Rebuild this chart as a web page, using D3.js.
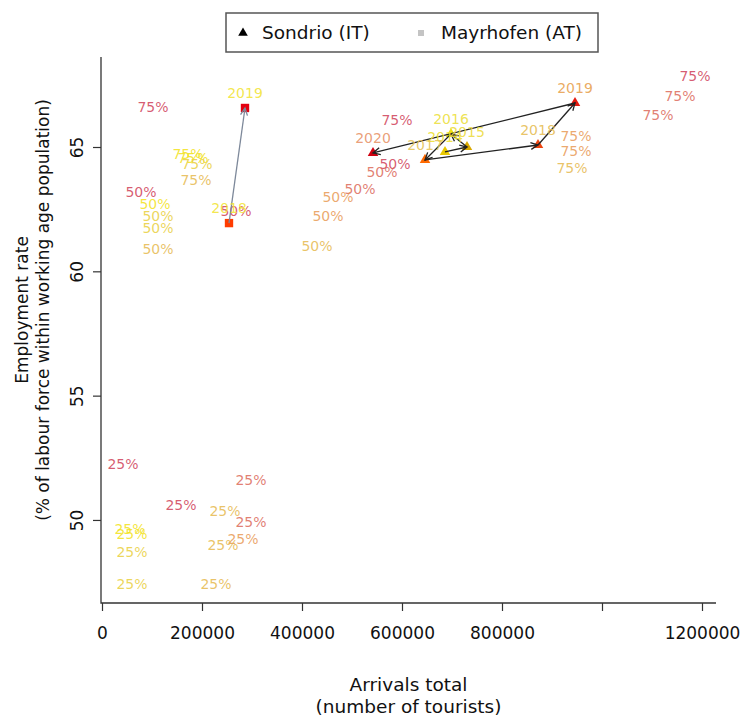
<!DOCTYPE html>
<html>
<head>
<meta charset="utf-8">
<script src="https://cdn.jsdelivr.net/npm/d3@7"></script>
<style>
  html, body { margin: 0; padding: 0; background: #fff; }
  svg { display: block; font-family: "DejaVu Sans", sans-serif; }
</style>
</head>
<body>
<svg id="chart" width="741" height="717"></svg>
<script>
// ---- data ----
const xLimits = [-2000, 1228000];
const yLimits = [46.66, 68.62];
const xTicks = [0, 200000, 400000, 600000, 800000, 1000000, 1200000];
const xTickLabels = ["0", "200000", "400000", "600000", "800000", "", "1200000"];
const yTicks = [50, 55, 60, 65];
const yTickLabels = ["50", "55", "60", "65"];

// Sondrio (IT): yearly path
const sondrioYears = [2014, 2015, 2016, 2017, 2018, 2019, 2020];
const sondrioArrivals = [686000, 730000, 698000, 646000, 872000, 946000, 542000];
const sondrioEmployment = [64.80, 65.00, 65.52, 64.48, 65.08, 66.77, 64.76];

// Mayrhofen (AT): yearly path
const mayrhofenYears = [2018, 2019];
const mayrhofenArrivals = [254000, 286000];
const mayrhofenEmployment = [61.94, 66.57];

// Quantile markers: text, arrivals, employment, year
const quantileText = [
  "75%", "75%", "75%", "75%", "75%", "75%", "75%", "75%", "75%", "75%", "75%", "75%",
  "50%", "50%", "50%", "50%", "50%", "50%", "50%", "50%", "50%", "50%", "50%", "50%",
  "25%", "25%", "25%", "25%", "25%", "25%", "25%", "25%", "25%", "25%", "25%", "25%"
];
const quantileArrivals = [
  102000, 172000, 182000, 190000, 188000, 590000, 1186000, 1156000, 1112000, 948000, 948000, 940000,
  78000, 106000, 112000, 112000, 112000, 268000, 586000, 560000, 516000, 472000, 452000, 430000,
  42000, 298000, 158000, 246000, 298000, 56000, 60000, 282000, 242000, 60000, 60000, 228000
];
const quantileEmployment = [
  66.61, 64.72, 64.56, 64.32, 63.67, 66.09, 67.86, 67.05, 66.29, 65.44, 64.84, 64.16,
  63.19, 62.71, 62.23, 61.74, 60.90, 62.43, 64.32, 64.00, 63.31, 62.99, 62.23, 61.02,
  52.25, 51.61, 50.60, 50.36, 49.92, 49.64, 49.44, 49.24, 49.00, 48.71, 47.43, 47.43
];
const quantileYear = [
  2020, 2015, 2015, 2016, 2017, 2020, 2020, 2019, 2019, 2018, 2018, 2017,
  2020, 2015, 2016, 2016, 2017, 2020, 2020, 2019, 2019, 2018, 2018, 2017,
  2020, 2019, 2020, 2017, 2019, 2015, 2015, 2018, 2017, 2016, 2016, 2017
];

const legendLabels = ["Sondrio (IT)", "Mayrhofen (AT)"];

// ---- layout ----
const svg = d3.select("#chart");
const plot = { left: 101, right: 716, top: 57, bottom: 603 };

const x = d3.scaleLinear().domain(xLimits).range([plot.left, plot.right]);
const y = d3.scaleLinear().domain(yLimits).range([plot.bottom, plot.top]);

const yearTextColour = d3.scaleOrdinal()
  .domain([2015, 2016, 2017, 2018, 2019, 2020])
  .range(["#f2e21c", "#e9cf3e", "#e6b94e", "#e89a55", "#dc6a5a", "#cf3f58"]);

const sondrioPointColour = d3.scaleOrdinal()
  .domain(sondrioYears)
  .range(["#e8c800", "#d9a800", "#eede10", "#ff6a00", "#ec4510", "#e41a10", "#d00010"]);
const sondrioLabelColour = d3.scaleOrdinal()
  .domain(sondrioYears)
  .range(["#eee030", "#ecdb40", "#ece040", "#e6c458", "#e6bd55", "#e8a250", "#e8946a"]);
const mayrhofenPointColour = d3.scaleOrdinal().domain(mayrhofenYears).range(["#ff3c00", "#e40010"]);
const mayrhofenLabelColour = "#f2e43a";

// ---- frame (L-shaped) ----
svg.append("path")
  .attr("d", `M${plot.left},${plot.top}V${plot.bottom}H${plot.right}`)
  .attr("fill", "none").attr("stroke", "#333").attr("stroke-width", 1.3);

// ---- axes ----
const xAxis = d3.axisBottom(x)
  .tickValues(xTicks)
  .tickSize(8)
  .tickPadding(16)
  .tickFormat((d, i) => xTickLabels[i]);
const gx = svg.append("g").attr("transform", `translate(0,${plot.bottom})`).call(xAxis);
gx.select(".domain").remove();
gx.selectAll("line").attr("stroke", "#333").attr("stroke-width", 1.2);
gx.selectAll("text").attr("fill", "#111").style("font-size", "17px").style("font-family", "DejaVu Sans");

const yAxis = d3.axisLeft(y)
  .tickValues(yTicks)
  .tickSize(8)
  .tickFormat((d, i) => yTickLabels[i]);
const gy = svg.append("g").attr("transform", `translate(${plot.left},0)`).call(yAxis);
gy.select(".domain").remove();
gy.selectAll("line").attr("stroke", "#333").attr("stroke-width", 1.2);
gy.selectAll("text")
  .attr("fill", "#111")
  .style("font-size", "17px").style("font-family", "DejaVu Sans")
  .attr("x", null).attr("dy", null)
  .attr("text-anchor", "middle")
  .attr("transform", "translate(-18,0) rotate(-90)");

// axis titles
svg.append("text").attr("x", (plot.left + plot.right) / 2).attr("y", 691)
  .attr("text-anchor", "middle").style("font-size", "18.5px").attr("fill", "#111")
  .text("Arrivals total");
svg.append("text").attr("x", (plot.left + plot.right) / 2).attr("y", 713)
  .attr("text-anchor", "middle").style("font-size", "18.5px").attr("fill", "#111")
  .text("(number of tourists)");
const yMid = (plot.top + plot.bottom) / 2;
svg.append("text").attr("transform", `translate(28,${yMid - 20}) rotate(-90)`)
  .attr("text-anchor", "middle").style("font-size", "17px").attr("fill", "#111")
  .text("Employment rate");
svg.append("text").attr("transform", `translate(49,${yMid - 20}) rotate(-90)`)
  .attr("text-anchor", "middle").style("font-size", "17px").attr("fill", "#111")
  .text("(% of labour force within working age population)");

// ---- quantile labels ----
const quantiles = quantileText.map((t, i) => ({
  t, a: quantileArrivals[i], e: quantileEmployment[i], year: quantileYear[i]
}));
svg.append("g").selectAll("text").data(quantiles).join("text")
  .attr("x", d => x(d.a)).attr("y", d => y(d.e))
  .attr("dy", "0.35em")
  .attr("text-anchor", "middle")
  .style("font-size", "14px")
  .attr("fill", d => yearTextColour(d.year))
  .attr("fill-opacity", 0.85)
  .text(d => d.t);

// ---- arrows ----
function arrow(g, x0, y0, x1, y1, colour) {
  const ang = Math.atan2(y1 - y0, x1 - x0);
  const len = 8, spread = Math.PI / 7;
  g.append("line").attr("x1", x0).attr("y1", y0).attr("x2", x1).attr("y2", y1)
    .attr("stroke", colour).attr("stroke-width", 1.3);
  const p1 = [x1 - len * Math.cos(ang - spread), y1 - len * Math.sin(ang - spread)];
  const p2 = [x1 - len * Math.cos(ang + spread), y1 - len * Math.sin(ang + spread)];
  g.append("path").attr("d", `M${p1}L${x1},${y1}L${p2}`)
    .attr("fill", "none").attr("stroke", colour).attr("stroke-width", 1.3);
}

const sondrio = sondrioYears.map((yr, i) => ({ yr, a: sondrioArrivals[i], e: sondrioEmployment[i] }));
const mayrhofen = mayrhofenYears.map((yr, i) => ({ yr, a: mayrhofenArrivals[i], e: mayrhofenEmployment[i] }));

// ---- markers ----
const tri = d3.symbol().type(d3.symbolTriangle).size(48);
const sq = d3.symbol().type(d3.symbolSquare).size(70);

const gs = svg.append("g");
gs.selectAll("path").data(sondrio).join("path")
  .attr("d", tri)
  .attr("transform", d => `translate(${x(d.a)},${y(d.e)})`)
  .attr("fill", d => sondrioPointColour(d.yr));

const gm = svg.append("g");
gm.selectAll("path").data(mayrhofen).join("path")
  .attr("d", sq)
  .attr("transform", d => `translate(${x(d.a)},${y(d.e)})`)
  .attr("fill", d => mayrhofenPointColour(d.yr));

const ga = svg.append("g");
for (let i = 1; i < sondrio.length; i++) {
  arrow(ga, x(sondrio[i - 1].a), y(sondrio[i - 1].e), x(sondrio[i].a), y(sondrio[i].e), "#222");
}
for (let i = 1; i < mayrhofen.length; i++) {
  arrow(ga, x(mayrhofen[i - 1].a), y(mayrhofen[i - 1].e), x(mayrhofen[i].a), y(mayrhofen[i].e), "#7d889a");
}

// year labels
svg.append("g").selectAll("text").data(sondrio).join("text")
  .attr("x", d => x(d.a)).attr("y", d => y(d.e) - 15)
  .attr("dy", "0.35em").attr("text-anchor", "middle")
  .style("font-size", "14px")
  .attr("fill", d => sondrioLabelColour(d.yr)).attr("fill-opacity", 0.9)
  .text(d => d.yr);
svg.append("g").selectAll("text").data(mayrhofen).join("text")
  .attr("x", d => x(d.a)).attr("y", d => y(d.e) - 15)
  .attr("dy", "0.35em").attr("text-anchor", "middle")
  .style("font-size", "14px")
  .attr("fill", mayrhofenLabelColour).attr("fill-opacity", 0.9)
  .text(d => d.yr);

// ---- legend ----
const lg = svg.append("g");
lg.append("rect").attr("x", 226).attr("y", 13).attr("width", 372).attr("height", 39)
  .attr("fill", "#fff").attr("stroke", "#555").attr("stroke-width", 1.5);
lg.append("path").attr("d", d3.symbol().type(d3.symbolTriangle).size(40))
  .attr("transform", "translate(243,33)").attr("fill", "#000");
lg.append("text").attr("x", 262).attr("y", 33).attr("dy", "0.35em")
  .style("font-size", "18.5px").attr("fill", "#111").text(legendLabels[0]);
lg.append("rect").attr("x", 418).attr("y", 30).attr("width", 6).attr("height", 6)
  .attr("fill", "#c4c4c4");
lg.append("text").attr("x", 441).attr("y", 33).attr("dy", "0.35em")
  .style("font-size", "18.5px").attr("fill", "#111").text(legendLabels[1]);
</script>
</body>
</html>
